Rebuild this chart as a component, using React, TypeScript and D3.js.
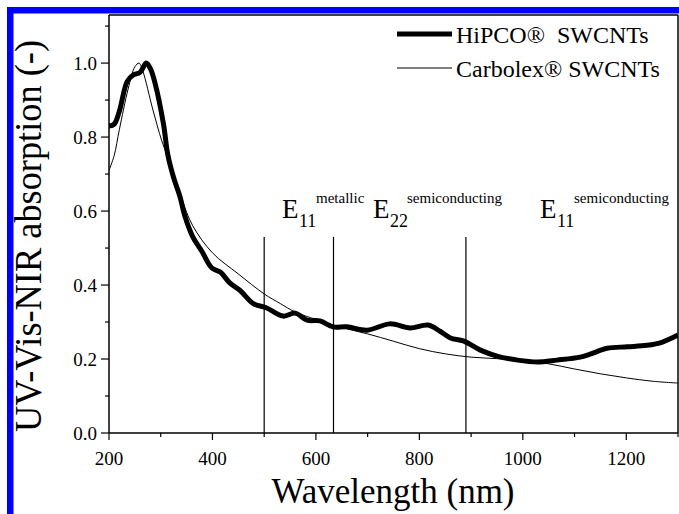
import React from "react";
import * as d3 from "d3";

// wavelength (nm) / normalized absorption
const hipcoX = [200, 210, 220, 235, 246, 260, 272, 280, 289, 305, 314, 325, 337, 347, 362, 380, 399, 415, 434, 453, 479, 505, 537, 560, 583, 608, 633, 660, 699, 743, 782, 817, 840, 860, 885, 918, 950, 990, 1028, 1066, 1111, 1130, 1163, 1202, 1240, 1270, 1300];
const hipcoY = [0.83, 0.835, 0.87, 0.95, 0.967, 0.975, 1.0, 0.985, 0.946, 0.838, 0.75, 0.69, 0.64, 0.585, 0.53, 0.49, 0.446, 0.435, 0.405, 0.386, 0.35, 0.338, 0.316, 0.324, 0.305, 0.303, 0.287, 0.287, 0.278, 0.295, 0.284, 0.292, 0.275, 0.257, 0.249, 0.224, 0.208, 0.197, 0.192, 0.197, 0.205, 0.213, 0.229, 0.233, 0.237, 0.246, 0.265];

const carbolexX = [200, 210, 220, 237, 250, 258, 265, 285, 302, 320, 340, 362, 400, 450, 500, 531, 560, 600, 650, 700, 750, 800, 850, 900, 950, 1000, 1050, 1100, 1150, 1200, 1250, 1300];
const carbolexY = [0.71, 0.75, 0.82, 0.93, 0.99, 1.0, 0.98, 0.873, 0.79, 0.72, 0.635, 0.56, 0.487, 0.43, 0.376, 0.35, 0.327, 0.307, 0.285, 0.268, 0.248, 0.228, 0.214, 0.205, 0.201, 0.195, 0.187, 0.173, 0.16, 0.149, 0.14, 0.135];

const xTicks = [200, 400, 600, 800, 1000, 1200];
const xMinor = [300, 500, 700, 900, 1100, 1300];
const yTicks = [0, 0.2, 0.4, 0.6, 0.8, 1.0];
const yMinor = [0.1, 0.3, 0.5, 0.7, 0.9, 1.1];

// transition markers
const markerX = [500, 634, 890];
const markerTop = 0.53;
const markerLabels = [
  { x: 282, sub: "11", sup: "metallic" },
  { x: 373, sub: "22", sup: "semiconducting" },
  { x: 540, sub: "11", sup: "semiconducting" },
];

const W = 679;
const H = 514;
const css = `svg.uvvis text.lbl { font-family: "Liberation Serif", serif; }`;

export default function App() {
  const x = d3.scaleLinear().domain([200, 1300]).range([109, 678]);
  const y = d3.scaleLinear().domain([0, 1.13]).range([433, 15]);

  const line = d3
    .line<[number, number]>()
    .x((d) => x(d[0]))
    .y((d) => y(d[1]))
    .curve(d3.curveCatmullRom.alpha(0.5));

  const hipco = hipcoX.map((v, i) => [v, hipcoY[i]] as [number, number]);
  const carbolex = carbolexX.map((v, i) => [v, carbolexY[i]] as [number, number]);

  const x0 = x.range()[0];
  const x1 = x.range()[1];
  const yb = y(0);
  const yt = y.range()[1];

  return (
    <svg
      className="uvvis"
      width={W}
      height={H}
      style={{ position: "absolute", left: 0, top: 0, background: "#fff" }}
    >
      <style>{css}</style>
      <defs>
        <clipPath id="plot">
          <rect x={x0} y={yt} width={x1 - x0} height={yb - yt} />
        </clipPath>
      </defs>

      {/* blue frame of the source figure */}
      <rect x={7} y={7} width={W} height={6.5} fill="#0000ff" />
      <rect x={7} y={7} width={6.5} height={H} fill="#0000ff" />

      {/* curves */}
      <g clipPath="url(#plot)">
        <path d={line(carbolex) || ""} fill="none" stroke="#000" strokeWidth={1} />
        <path d={line(hipco) || ""} fill="none" stroke="#000" strokeWidth={5} strokeLinejoin="round" />
      </g>

      {/* marker lines */}
      {markerX.map((m) => (
        <line key={m} x1={x(m)} x2={x(m)} y1={y(markerTop)} y2={yb} stroke="#000" strokeWidth={1.2} />
      ))}
      {markerLabels.map((l, i) => (
        <g key={i}>
          <text className="lbl" x={l.x} y={218} fontSize={27}>E</text>
          <text className="lbl" x={l.x + 17} y={227} fontSize={18}>{l.sub}</text>
          <text className="lbl" x={l.x + 34} y={203} fontSize={15}>{l.sup}</text>
        </g>
      ))}

      {/* frame */}
      <line x1={x0} x2={x1} y1={yt} y2={yt} stroke="#000" strokeWidth={1.5} />
      <line x1={x1} x2={x1} y1={yt} y2={yb} stroke="#000" strokeWidth={1.5} />
      <line x1={x0} x2={x0} y1={yt} y2={yb} stroke="#000" strokeWidth={1.5} />
      <line x1={x0} x2={x1} y1={yb} y2={yb} stroke="#000" strokeWidth={1.5} />

      {/* x axis */}
      {xTicks.map((t) => (
        <g key={t}>
          <line x1={x(t)} x2={x(t)} y1={yb} y2={yb + 7} stroke="#000" strokeWidth={1.2} />
          <text className="lbl" x={x(t)} y={465} fontSize={19} textAnchor="middle">{t}</text>
        </g>
      ))}
      {xMinor.map((t) => (
        <line key={t} x1={x(t)} x2={x(t)} y1={yb} y2={yb + 4} stroke="#000" strokeWidth={1.2} />
      ))}
      <text className="lbl" x={393} y={503} fontSize={35} textAnchor="middle">Wavelength (nm)</text>

      {/* y axis */}
      {yTicks.map((t) => (
        <g key={t}>
          <line x1={x0 - 8} x2={x0} y1={y(t)} y2={y(t)} stroke="#000" strokeWidth={1.2} />
          <text className="lbl" x={97} y={y(t) + 6.5} fontSize={19} textAnchor="end">{t.toFixed(1)}</text>
        </g>
      ))}
      {yMinor.map((t) => (
        <line key={t} x1={x0 - 4} x2={x0} y1={y(t)} y2={y(t)} stroke="#000" strokeWidth={1.2} />
      ))}
      <text
        className="lbl"
        transform="translate(41,236) rotate(-90)"
        fontSize={38}
        textAnchor="middle"
        textLength={392}
        lengthAdjust="spacingAndGlyphs"
      >
        UV-Vis-NIR absorption (-)
      </text>

      {/* legend */}
      <line x1={397} x2={452} y1={34} y2={34} stroke="#000" strokeWidth={5} />
      <text className="lbl" x={456} y={43} fontSize={24}>{"HiPCO®\u00A0\u00A0SWCNTs"}</text>
      <line x1={397} x2={452} y1={68} y2={68} stroke="#000" strokeWidth={1} />
      <text className="lbl" x={456} y={77} fontSize={24}>Carbolex® SWCNTs</text>
    </svg>
  );
}
